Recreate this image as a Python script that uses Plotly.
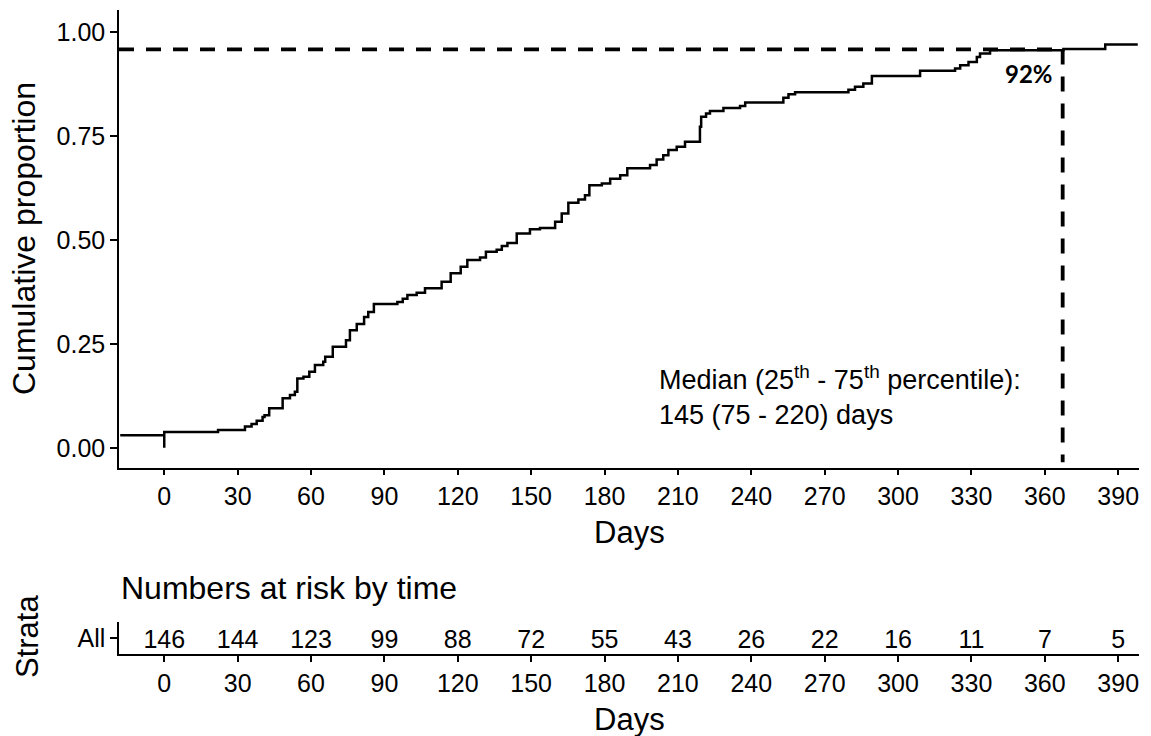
import plotly.graph_objects as go

# ---- data ----
days = [-18, 0, 0, 22, 33, 35.7, 37.8, 40.2, 41, 42.9, 48.4, 51.4, 53.4, 54.4, 56.9, 59.3,
        61.6, 65, 65.8, 68.9, 74.3, 75.9, 78.7, 81.7, 83.4, 85.7, 95.3, 97.5, 99.4, 103.2,
        106.6, 113.4, 117.1, 121.2, 123.9, 129.1, 131.5, 135.9, 138, 140.3, 144.1, 149.5,
        153.6, 159.8, 162.5, 165.2, 169.3, 172, 173.8, 178.9, 182.3, 186.4, 189.3, 198.6,
        201.3, 204, 206.1, 209.5, 212.9, 219, 219.5, 221.5, 223.1, 228.6, 235.4, 237.5,
        253.1, 255.2, 257.9, 279.7, 282.4, 285.8, 289.3, 309, 323.3, 325.4, 328.8, 332.2,
        333.5, 337.6, 367.6, 384.7, 398]
cum_prop = [0.030, 0.0, 0.038, 0.043, 0.051, 0.057, 0.065, 0.074, 0.078, 0.095, 0.119, 0.127,
            0.135, 0.167, 0.171, 0.183, 0.199, 0.207, 0.219, 0.243, 0.259, 0.283, 0.298, 0.315,
            0.327, 0.346, 0.351, 0.359, 0.368, 0.373, 0.384, 0.400, 0.420, 0.436, 0.452, 0.458,
            0.472, 0.477, 0.486, 0.493, 0.516, 0.526, 0.529, 0.544, 0.564, 0.590, 0.598, 0.608,
            0.632, 0.636, 0.648, 0.656, 0.673, 0.681, 0.694, 0.704, 0.717, 0.725, 0.737, 0.773,
            0.797, 0.805, 0.811, 0.818, 0.823, 0.831, 0.843, 0.851, 0.856, 0.862, 0.869, 0.877,
            0.895, 0.908, 0.913, 0.921, 0.929, 0.941, 0.949, 0.957, 0.960, 0.971, 0.971]

risk_times = [0, 30, 60, 90, 120, 150, 180, 210, 240, 270, 300, 330, 360, 390]
risk_counts = [146, 144, 123, 99, 88, 72, 55, 43, 26, 22, 16, 11, 7, 5]
y_ticks = [0, 0.25, 0.5, 0.75, 1.0]
y_ticktext = ["0.00", "0.25", "0.50", "0.75", "1.00"]

ref_day = 367.3
ref_prop = 0.959
ref_label = "92%"
median_text = "Median (25<sup>th</sup> - 75<sup>th</sup> percentile):<br>145 (75 - 220) days"

W, H = 1151, 736
FONT = "Liberation Sans, Arial, sans-serif"
X_RANGE = [-18.5, 398.5]
Y_RANGE = [-0.048, 1.054]


def px_x(p):
    return p / W


def px_y(p):
    return 1 - p / H


fig = go.Figure()

# cumulative incidence curve
fig.add_trace(go.Scatter(x=days, y=cum_prop, mode="lines", line=dict(color="black", width=2.5, shape="hv"),
                         xaxis="x", yaxis="y", showlegend=False, hoverinfo="skip"))

# reference dashed lines
fig.add_trace(go.Scatter(x=[X_RANGE[0], ref_day], y=[ref_prop, ref_prop], mode="lines",
                         line=dict(color="black", width=3.8, dash="15px,12px"),
                         xaxis="x", yaxis="y", showlegend=False, hoverinfo="skip"))
fig.add_trace(go.Scatter(x=[ref_day, ref_day], y=[ref_prop, -0.035], mode="lines",
                         line=dict(color="black", width=3.8, dash="15px,12px"),
                         xaxis="x", yaxis="y", showlegend=False, hoverinfo="skip"))

# risk table numbers
fig.add_trace(go.Scatter(x=risk_times, y=[0.4] * len(risk_times), mode="text",
                         text=[str(v) for v in risk_counts], textposition="middle center",
                         textfont=dict(family=FONT, size=25, color="black"),
                         xaxis="x2", yaxis="y2", showlegend=False, hoverinfo="skip"))

axis_common = dict(showgrid=False, zeroline=False, showline=True, linecolor="black", linewidth=1.5,
                   ticks="outside", tickcolor="black", tickwidth=1.5,
                   tickfont=dict(family=FONT, size=25, color="black"))

fig.update_layout(
    width=W, height=H,
    margin=dict(l=0, r=0, t=0, b=0),
    paper_bgcolor="white", plot_bgcolor="white",
    xaxis=dict(domain=[px_x(119), px_x(1139)], range=X_RANGE, tickvals=risk_times, ticklen=6,
               anchor="y", **axis_common),
    yaxis=dict(domain=[px_y(467.7), px_y(10)], range=Y_RANGE, tickvals=y_ticks, ticktext=y_ticktext,
               ticklen=7, anchor="x", **axis_common),
    xaxis2=dict(domain=[px_x(119), px_x(1139)], range=X_RANGE, tickvals=risk_times, ticklen=6,
                anchor="y2", **axis_common),
    yaxis2=dict(domain=[px_y(654.3), px_y(621.7)], range=[0, 1], tickvals=[0.5], ticktext=["All"],
                ticklen=7, anchor="x2", **axis_common),
)

annos = [
    dict(text="Cumulative proportion", x=px_x(24), y=px_y(239), textangle=-90, font_size=32),
    dict(text="Days", x=px_x(629), y=px_y(532), font_size=31),
    dict(text="Days", x=px_x(629), y=px_y(719), font_size=31),
    dict(text="Strata", x=px_x(27), y=px_y(637), textangle=-90, font_size=31),
    dict(text="Numbers at risk by time", x=px_x(119), y=px_y(588), xanchor="left", font_size=32),
]
for a in annos:
    fig.add_annotation(xref="paper", yref="paper", showarrow=False,
                       xanchor=a.get("xanchor", "center"), yanchor="middle",
                       x=a["x"], y=a["y"], text=a["text"], textangle=a.get("textangle", 0),
                       font=dict(family=FONT, size=a["font_size"], color="black"))

fig.add_annotation(xref="x", yref="y", x=201.5, y=0.127, text=median_text, showarrow=False,
                   xanchor="left", yanchor="middle", align="left",
                   font=dict(family=FONT, size=27, color="black"))
fig.add_annotation(xref="x", yref="y", x=364.2, y=0.901, text="<b>" + ref_label + "</b>", showarrow=False,
                   xanchor="right", yanchor="middle",
                   font=dict(family="Lato, Noto Sans, sans-serif", size=24, color="black"))

fig.write_html("out.html")
